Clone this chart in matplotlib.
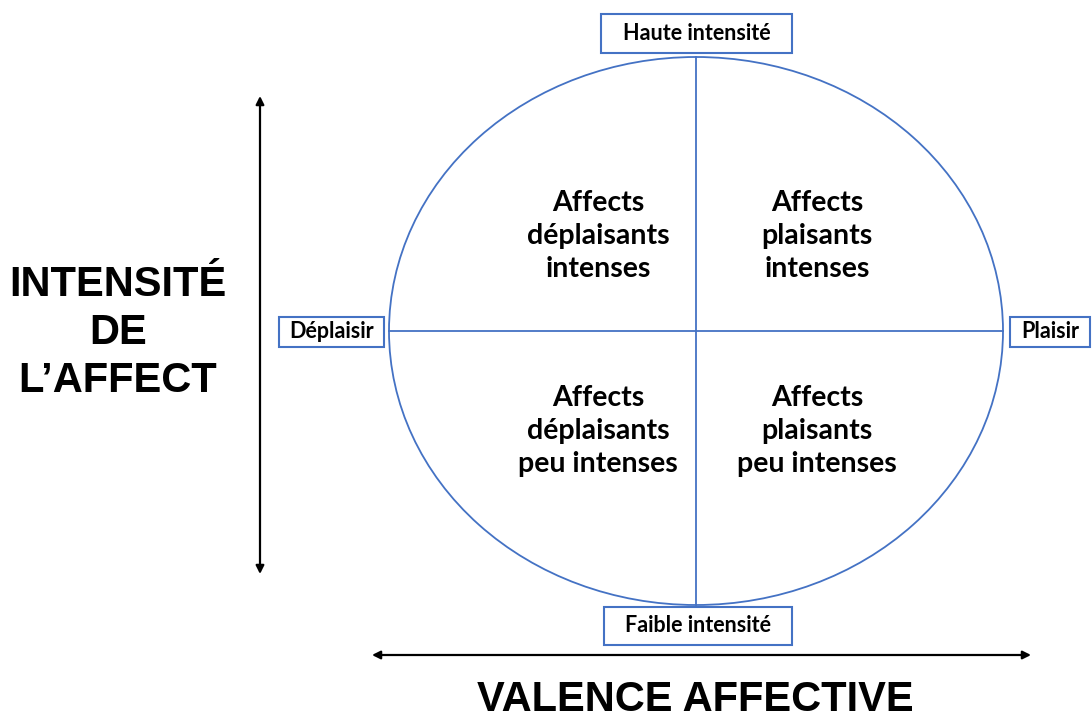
import matplotlib
matplotlib.use("Agg")
import matplotlib.pyplot as plt
from matplotlib.patches import Ellipse, Rectangle

# text content of the diagram
quadrant_labels = [
    "Affects\ndéplaisants\nintenses",
    "Affects\nplaisants\nintenses",
    "Affects\ndéplaisants\npeu intenses",
    "Affects\nplaisants\npeu intenses",
]
pole_labels = ["Haute intensité", "Déplaisir", "Plaisir", "Faible intensité"]
y_title = "INTENSITÉ\nDE\nL\u2019AFFECT"
x_title = "VALENCE AFFECTIVE"

blue = "#4472C4"
W, H = 1092, 719

fig = plt.figure(figsize=(W / 100, H / 100), dpi=100)
ax = fig.add_axes([0, 0, 1, 1])
ax.set_xlim(0, W)
ax.set_ylim(H, 0)
ax.axis("off")

# ellipse and the two axes through it
cx, cy, rx, ry = 696, 331, 307, 274
ax.add_patch(Ellipse((cx, cy), 2 * rx, 2 * ry, fill=False, ec=blue, lw=1.3))
ax.plot([cx, cx], [cy - ry, cy + ry], color=blue, lw=1.3)
ax.plot([cx - rx, cx + rx], [cy, cy], color=blue, lw=1.3)

# quadrant texts
qfont = dict(family=["Lato", "DejaVu Sans"], fontsize=20.5, fontweight="bold",
             ha="center", va="center", linespacing=1.33)
qpos = [(598, 236), (817, 236), (598, 431), (817, 431)]
for (x, y), t in zip(qpos, quadrant_labels):
    ax.text(x, y, t, **qfont)

# boxed pole labels
boxes = [(601, 14, 191, 39), (279, 317, 105, 30), (1010, 317, 80, 30), (604, 607, 188, 38)]
for (x, y, w, h), t in zip(boxes, pole_labels):
    ax.add_patch(Rectangle((x, y), w, h, fill=True, fc="white", ec=blue, lw=1.5))
    ax.text(x + w / 2, y + h / 2, t, family=["Lato", "DejaVu Sans"], fontsize=15.5,
            fontweight="bold", ha="center", va="center")

# arrows
arw = dict(arrowstyle="<|-|>", color="black", lw=1.6, mutation_scale=12,
           shrinkA=0, shrinkB=0)
ax.annotate("", xy=(260, 96), xytext=(260, 574), arrowprops=arw)
ax.annotate("", xy=(372, 655), xytext=(1031, 655), arrowprops=arw)

# axis titles
tfont = dict(family=["Liberation Sans", "DejaVu Sans"], fontsize=30,
             fontweight="bold", ha="center", va="center")
ax.text(118, 333, y_title, linespacing=1.25, **tfont)
ax.text(695, 700, x_title, **tfont)

fig.savefig("out.png", dpi=100)
